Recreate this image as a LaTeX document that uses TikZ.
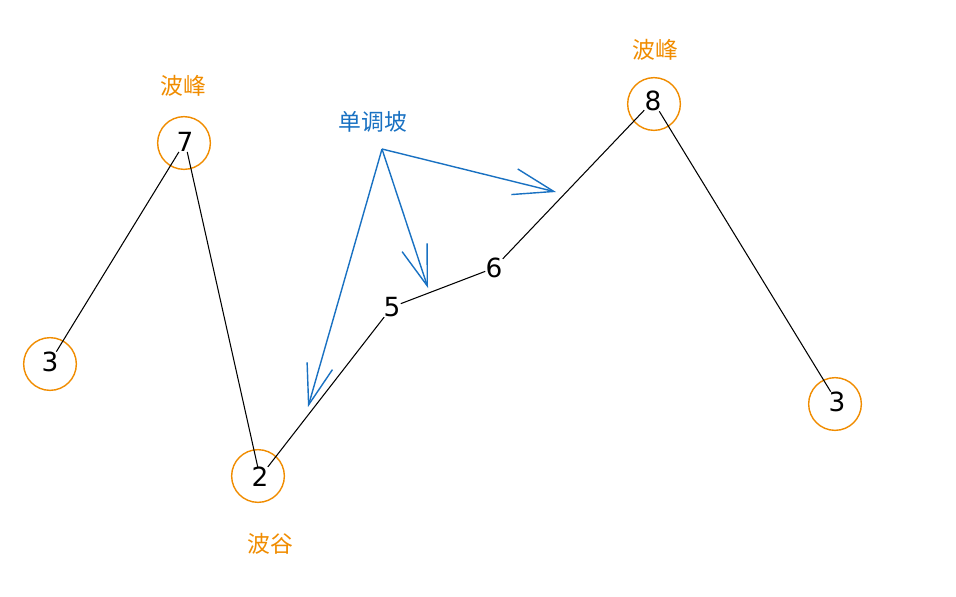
\documentclass[tikz,border=0pt]{standalone}
\usepackage{fontspec}
\usepackage{tikz}
\usetikzlibrary{arrows.meta}
\newfontfamily\cjk{Noto Sans CJK SC}
\setmainfont{DejaVu Sans}
\definecolor{peak}{HTML}{F08C00}
\definecolor{slope}{HTML}{1971C2}
\tikzset{
    ring/.style={circle, draw=peak, thick, minimum size=30pt, inner sep=0pt},
    num/.style={inner sep=0pt, font=\fontsize{15}{15}\selectfont},
    tag/.style={text=peak, font=\cjk\fontsize{13}{13}\selectfont},
    wave/.style={black, line width=0.6pt},
    arr/.style={slope, line width=0.8pt, -{Straight Barb[length=23pt, width=15pt, line width=0.8pt]}}
}
\begin{document}
\begin{tikzpicture}[x=0.02cm, y=-0.02cm]
    \useasboundingbox (0,0) rectangle (956,596);
    \node[ring] (r3a) at (50,364) {};
    \node[ring] (r7) at (184,143) {};
    \node[ring] (r2) at (258,476) {};
    \node[ring] (r8) at (654,104) {};
    \node[ring] (r3b) at (835,404) {};
    \node[num] (n3a) at (50,362) {3};
    \node[num] (n7) at (185,142) {7};
    \node[num] (n2) at (260,477) {2};
    \node[num] (n5) at (392,307) {5};
    \node[num] (n6) at (494,268) {6};
    \node[num] (n8) at (653,101) {8};
    \node[num] (n3b) at (837,402) {3};
    \draw[wave] (n3a) -- (n7);
    \draw[wave] (n7) -- (n2);
    \draw[wave] (n2) -- (n5);
    \draw[wave] (n5) -- (n6);
    \draw[wave] (n6) -- (n8);
    \draw[wave] (n8) -- (n3b);
    \node[tag] (peakA) at (183,86) {波峰};
    \node[tag] (peakB) at (655,50) {波峰};
    \node[tag] (valley) at (270,544) {波谷};
    \node[tag, text=slope] (mono) at (373,122) {单调坡};
    \coordinate (o) at (382,149);
    \coordinate (e1) at (308,407);
    \coordinate (e2) at (428,288);
    \coordinate (e3) at (556,192);
    \draw[arr] (o) -- (e1);
    \draw[arr] (o) -- (e2);
    \draw[arr] (o) -- (e3);
\end{tikzpicture}
\end{document}
